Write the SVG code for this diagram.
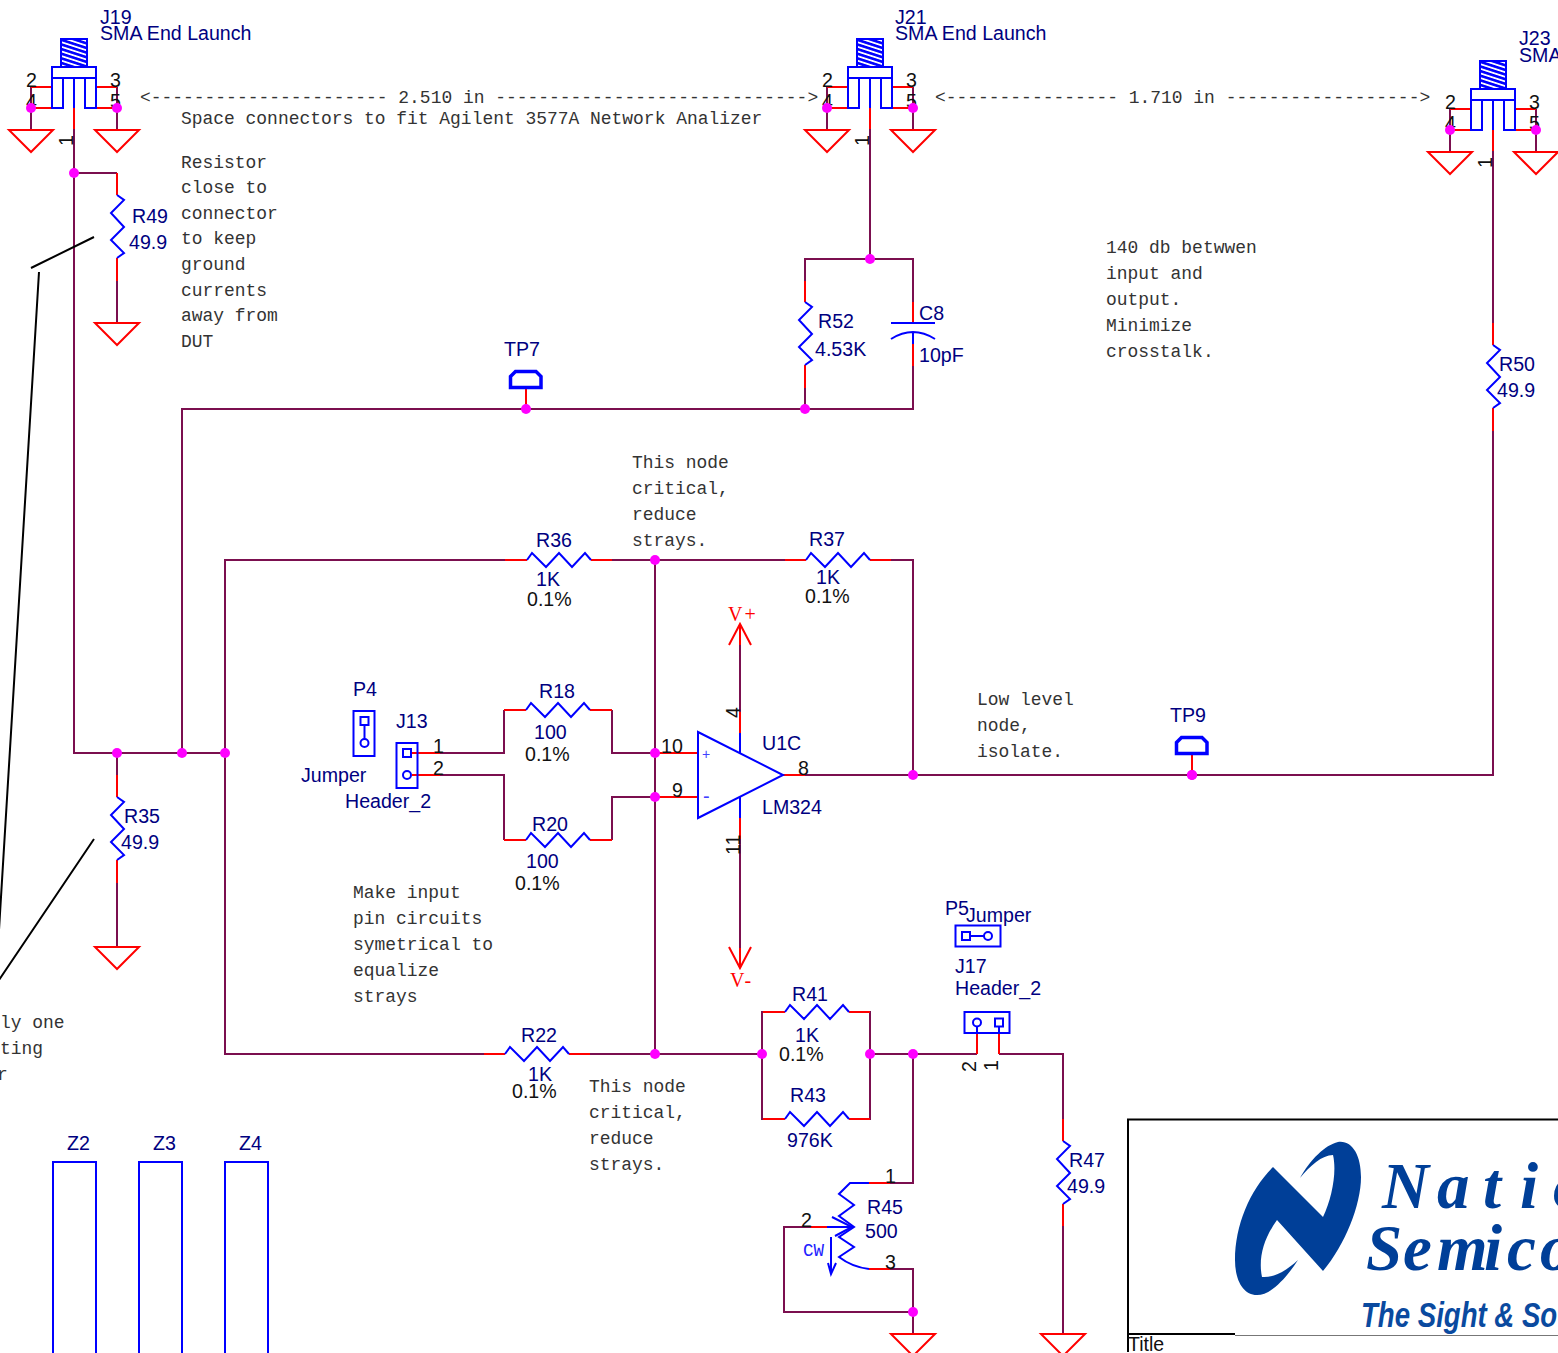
<svg xmlns="http://www.w3.org/2000/svg" width="1558" height="1353" viewBox="0 0 1558 1353">
<style>
.w{fill:none;stroke:#7b0f4f;stroke-width:2}
.p{fill:none;stroke:#f00;stroke-width:2}
.b{fill:none;stroke:#00f;stroke-width:2}
.k{fill:none;stroke:#000;stroke-width:2}
.j{fill:#f0f}
.t{font-family:"Liberation Sans",Arial,sans-serif;font-size:19.6px;fill:#000080}
.n{font-family:"Liberation Sans",Arial,sans-serif;font-size:19.6px;fill:#111}
.m{font-family:"Liberation Mono","Courier New",monospace;font-size:17.95px;fill:#333}
.v{font-family:"Liberation Serif","Times New Roman",serif;font-size:20px;fill:#f00}
.l{font-family:"Liberation Serif","Times New Roman",serif;font-style:italic;font-weight:bold;font-size:65px;fill:#003f98}
</style>
<defs>
<pattern id="hatch" width="6" height="4.4" patternUnits="userSpaceOnUse" patternTransform="rotate(18)">
<rect width="6" height="2.6" fill="#00f"/>
</pattern>
<g id="sma">
<path class="w" d="M31 87V130M117 87V130M74 129V150"/>
<path class="p" d="M31 87H52M31 108H52M96 87H117M96 108H117M74 108V129"/>
<rect x="61" y="39" width="26" height="28" fill="url(#hatch)" stroke="#00f" stroke-width="2"/>
<rect class="b" x="52" y="67" width="44" height="11"/>
<path class="b" d="M52 78V108H63V78M96 78V108H85V78M74 78V108"/>
<path class="p" d="M31 152L9 130H53ZM117 152L95 130H139Z"/>
</g>
<path id="gnd" class="p" d="M0 22L-22 0H22Z"/>
<path id="rh" class="b" d="M0 0L5 -7L19 7L32 -7L45 7L58 -7L64 0"/>
<path id="rv" class="b" d="M0 0L7 5L-6 18L7 32L-6 45L7 58L0 63"/>
<g id="tp">
<path class="p" d="M526 388V409"/>
<path d="M510.500 387.500V376.500L515.500 371.500H536L541 376.500V387.500Z" fill="none" stroke="#00f" stroke-width="3.500"/>
</g>
</defs>
<rect width="1558" height="1353" fill="#fff"/>

<g id="connectors">
<path class="w" d="M74 150V753H225M74 173H117M117 281V323"/>
<path class="w" d="M870 150V259M805 281V259H913V302M805 388V409M913 366V409H182V753"/>
<path class="w" d="M1493 172V323M1493 431V775H805"/>
<path class="w" d="M117 753V775M117 883V947"/>
<path class="w" d="M505 560H225V1054H484M591 560H785M891 560H913V775M655 560V1054M590 1054H762"/>
<path class="w" d="M440 753H504V710M440 775H504V840M612 710V753H660M612 840V797H660"/>
<path class="w" d="M740 645V712M740 839V948"/>
<path class="w" d="M762 1054V1012H785M762 1054V1119H785M849 1012H870V1119H849M870 1054H977M913 1054V1183H890M999 1054H1063V1119M1063 1226V1334"/>
<path class="w" d="M890 1269H913V1334M913 1312H784V1227H811"/>
<path class="p" d="M117 173V195M117 258V281M805 281V302M805 365V388M913 302V323M913 344V366M1493 323V345M1493 408V431M117 775V797M117 860V883"/>
<path class="p" d="M505 560H527M591 560H612M785 560H806M870 560H891M504 710H526M590 710H612M504 840H526M590 840H612M484 1054H505M569 1054H590M763 1012H785M849 1012H870M763 1119H785M849 1119H870M1063 1119V1141M1063 1204V1226"/>
<path class="p" d="M412 753H440M412 775H440M660 753H698M660 797H698M783 775H805M740 712V733M740 818V839M869 1183H890M869 1269H890M811 1227H827M977 1033V1054M999 1033V1054"/>
<circle class="j" cx="74" cy="173" r="5"/><circle class="j" cx="117" cy="753" r="5"/><circle class="j" cx="182" cy="753" r="5"/><circle class="j" cx="225" cy="753" r="5"/>
<circle class="j" cx="870" cy="259" r="5"/><circle class="j" cx="805" cy="409" r="5"/>
<circle class="j" cx="655" cy="560" r="5"/><circle class="j" cx="655" cy="753" r="5"/><circle class="j" cx="655" cy="797" r="5"/><circle class="j" cx="655" cy="1054" r="5"/>
<circle class="j" cx="762" cy="1054" r="5"/><circle class="j" cx="870" cy="1054" r="5"/><circle class="j" cx="913" cy="1054" r="5"/><circle class="j" cx="913" cy="775" r="5"/><circle class="j" cx="1192" cy="775" r="5"/><circle class="j" cx="913" cy="1312" r="5"/>
</g>

<g id="J19"><use href="#sma"/>
<text class="t" x="100" y="24">J19</text><text class="t" x="100" y="40">SMA End Launch</text>
<text class="n" x="26" y="87">2</text><text class="n" x="26" y="108">4</text><text class="n" x="110" y="87">3</text><text class="n" x="110" y="108">5</text>
<text class="n" transform="translate(73 146) rotate(-90)">1</text>
<circle class="j" cx="31" cy="108" r="5"/><circle class="j" cx="117" cy="108" r="5"/></g>
<g id="J21" transform="translate(796 0)"><use href="#sma"/>
<text class="t" x="99" y="24">J21</text><text class="t" x="99" y="40">SMA End Launch</text>
<text class="n" x="26" y="87">2</text><text class="n" x="26" y="108">4</text><text class="n" x="110" y="87">3</text><text class="n" x="110" y="108">5</text>
<text class="n" transform="translate(73 146) rotate(-90)">1</text>
<circle class="j" cx="31" cy="108" r="5"/><circle class="j" cx="117" cy="108" r="5"/></g>
<g id="J23" transform="translate(1419 22)"><use href="#sma"/>
<text class="t" x="100" y="23">J23</text><text class="t" x="100" y="40">SMA</text>
<text class="n" x="26" y="87">2</text><text class="n" x="26" y="108">4</text><text class="n" x="110" y="87">3</text><text class="n" x="110" y="108">5</text>
<text class="n" transform="translate(73 146) rotate(-90)">1</text>
<circle class="j" cx="31" cy="108" r="5"/><circle class="j" cx="117" cy="108" r="5"/></g>

<g id="gnd-symbols">
<use href="#gnd" x="117" y="323"/><use href="#gnd" x="117" y="947"/><use href="#gnd" x="913" y="1334"/><use href="#gnd" x="1063" y="1334"/>
</g>

<g id="R49"><use href="#rv" x="117" y="195"/><text class="t" x="132" y="223">R49</text><text class="t" x="129" y="249">49.9</text></g>
<g id="R52"><use href="#rv" x="805" y="302"/><text class="t" x="818" y="328">R52</text><text class="t" x="815" y="356">4.53K</text></g>
<g id="C8"><path class="b" d="M891 323H935M913 332V344M891 339Q913 325 935 339"/><text class="t" x="919" y="320">C8</text><text class="t" x="919" y="362">10pF</text></g>
<g id="R50"><use href="#rv" x="1493" y="345"/><text class="t" x="1499" y="371">R50</text><text class="t" x="1497" y="397">49.9</text></g>
<g id="R35"><use href="#rv" x="117" y="797"/><text class="t" x="124" y="823">R35</text><text class="t" x="121" y="849">49.9</text></g>
<g id="R47"><use href="#rv" x="1063" y="1141"/><text class="t" x="1069" y="1167">R47</text><text class="t" x="1067" y="1193">49.9</text></g>
<g id="TP7"><use href="#tp"/><text class="t" x="504" y="356">TP7</text><circle class="j" cx="526" cy="409" r="5"/></g>
<g id="TP9"><use href="#tp" x="666" y="366"/><text class="t" x="1170" y="722">TP9</text><circle class="j" cx="1192" cy="775" r="5"/></g>
<g id="R36"><use href="#rh" x="527" y="560"/><text class="t" x="536" y="547">R36</text><text class="t" x="536" y="586">1K</text><text class="n" x="527" y="606">0.1%</text></g>
<g id="R37"><use href="#rh" x="806" y="560"/><text class="t" x="809" y="546">R37</text><text class="t" x="816" y="584">1K</text><text class="n" x="805" y="603">0.1%</text></g>
<g id="R18"><use href="#rh" x="526" y="710"/><text class="t" x="539" y="698">R18</text><text class="t" x="534" y="739">100</text><text class="n" x="525" y="761">0.1%</text></g>
<g id="R20"><use href="#rh" x="526" y="840"/><text class="t" x="532" y="831">R20</text><text class="t" x="526" y="868">100</text><text class="n" x="515" y="890">0.1%</text></g>
<g id="R22"><use href="#rh" x="505" y="1054"/><text class="t" x="521" y="1042">R22</text><text class="t" x="528" y="1081">1K</text><text class="n" x="512" y="1098">0.1%</text></g>
<g id="R41"><use href="#rh" x="785" y="1012"/><text class="t" x="792" y="1001">R41</text><text class="t" x="795" y="1042">1K</text><text class="n" x="779" y="1061">0.1%</text></g>
<g id="R43"><use href="#rh" x="785" y="1119"/><text class="t" x="790" y="1102">R43</text><text class="t" x="787" y="1147">976K</text></g>

<g id="P4"><rect class="b" x="353.500" y="711" width="21" height="45"/><rect class="b" x="360.500" y="717" width="8" height="8"/><circle class="b" cx="364.500" cy="743" r="4"/><path class="b" d="M364.500 725V739"/>
<text class="t" x="353" y="696">P4</text><text class="t" x="301" y="782">Jumper</text></g>
<g id="J13"><rect class="b" x="396.500" y="743" width="21" height="45"/><rect class="b" x="403" y="749" width="8" height="8"/><circle class="b" cx="407" cy="775" r="4"/>
<text class="t" x="396" y="728">J13</text><text class="t" x="345" y="808">Header_2</text><text class="n" x="433" y="753">1</text><text class="n" x="433" y="775">2</text></g>

<g id="U1C"><path class="b" d="M698 732L783 775L698 818Z"/><path class="b" d="M740 733V754M740 797V818"/>
<path class="p" d="M729 645L740 624L751 645M740 624V645M729 947L740 968L751 947M740 948V968"/>
<text x="702" y="759" style="font-family:'Liberation Sans',sans-serif;font-size:14px;fill:#4040ff">+</text>
<text x="703" y="803" style="font-family:'Liberation Sans',sans-serif;font-size:20px;fill:#4040ff">-</text>
<text class="t" x="762" y="750">U1C</text><text class="t" x="762" y="814">LM324</text>
<text class="n" x="661" y="753">10</text><text class="n" x="672" y="797">9</text><text class="n" x="798" y="775">8</text>
<text class="n" transform="translate(740 718) rotate(-90)">4</text><text class="n" transform="translate(740 855) rotate(-90)">11</text>
<text class="v" x="728" y="621" letter-spacing="2">V+</text><text class="v" x="730" y="987" letter-spacing="2">V-</text></g>

<g id="P5"><rect class="b" x="955.500" y="925.500" width="45" height="21"/><rect class="b" x="962" y="932" width="8" height="8"/><circle class="b" cx="988" cy="936" r="4"/><path class="b" d="M970 936H984"/>
<text class="t" x="945" y="915">P5</text><text class="t" x="966" y="922">Jumper</text></g>
<g id="J17"><rect class="b" x="964.500" y="1012" width="45" height="21"/><circle class="b" cx="977" cy="1022.500" r="4"/><rect class="b" x="995" y="1018.500" width="8" height="8"/><path class="b" d="M977 1027V1033M999 1027V1033"/>
<text class="t" x="955" y="973">J17</text><text class="t" x="955" y="995">Header_2</text>
<text class="n" transform="translate(976 1072) rotate(-90)">2</text><text class="n" transform="translate(998 1071) rotate(-90)">1</text></g>

<g id="R45"><path class="b" d="M869 1183H850L839 1194L854 1205L839 1216L854 1227L839 1237L854 1247L839 1257Q852 1267 869 1269"/>
<path class="b" d="M827 1227H852M832 1217L852 1227L835 1236M831 1237V1273M828 1263L831 1274L836 1263"/>
<text class="t" x="867" y="1214">R45</text><text class="t" x="865" y="1238">500</text>
<text class="n" x="885" y="1183">1</text><text class="n" x="801" y="1227">2</text><text class="n" x="885" y="1269">3</text>
<text x="803" y="1256" style="font-family:'Liberation Mono',monospace;font-size:17.500px;fill:#2020ff">CW</text></g>

<g id="Z2"><rect class="b" x="53" y="1162" width="43" height="200"/><text class="t" x="67" y="1150">Z2</text></g>
<g id="Z3"><rect class="b" x="139" y="1162" width="43" height="200"/><text class="t" x="153" y="1150">Z3</text></g>
<g id="Z4"><rect class="b" x="225" y="1162" width="43" height="200"/><text class="t" x="239" y="1150">Z4</text></g>

<g id="leaders"><path class="k" d="M31 268L94 237M39 272L-1 930M94 839L-1 980"/></g>

<g id="notes">
<text class="m" x="140" y="103" xml:space="preserve">&lt;---------------------- 2.510 in -----------------------------></text>
<text class="m" x="935" y="103" xml:space="preserve">&lt;---------------- 1.710 in ------------------></text>
<text class="m" x="181" y="124">Space connectors to fit Agilent 3577A Network Analizer</text>
<text class="m" x="181" y="168">Resistor</text><text class="m" x="181" y="193">close to</text><text class="m" x="181" y="219">connector</text><text class="m" x="181" y="244">to keep</text><text class="m" x="181" y="270">ground</text><text class="m" x="181" y="296">currents</text><text class="m" x="181" y="321">away from</text><text class="m" x="181" y="347">DUT</text>
<text class="m" x="1106" y="253">140 db betwwen</text><text class="m" x="1106" y="279">input and</text><text class="m" x="1106" y="305">output.</text><text class="m" x="1106" y="331">Minimize</text><text class="m" x="1106" y="357">crosstalk.</text>
<text class="m" x="632" y="468">This node</text><text class="m" x="632" y="494">critical,</text><text class="m" x="632" y="520">reduce</text><text class="m" x="632" y="546">strays.</text>
<text class="m" x="977" y="705">Low level</text><text class="m" x="977" y="731">node,</text><text class="m" x="977" y="757">isolate.</text>
<text class="m" x="353" y="898">Make input</text><text class="m" x="353" y="924">pin circuits</text><text class="m" x="353" y="950">symetrical to</text><text class="m" x="353" y="976">equalize</text><text class="m" x="353" y="1002">strays</text>
<text class="m" x="589" y="1092">This node</text><text class="m" x="589" y="1118">critical,</text><text class="m" x="589" y="1144">reduce</text><text class="m" x="589" y="1170">strays.</text>
<text class="m" x="0" y="1028">ly one</text><text class="m" x="0" y="1054">ting</text><text class="m" x="-3" y="1080">r</text>
</g>

<g id="title-block">
<path class="k" d="M1128 1352V1119.500H1558M1128 1334H1235"/>
<path d="M1235 1335.500H1558" fill="none" stroke="#777" stroke-width="1"/>
<path d="M1338 1142C1352 1140 1361 1155 1361 1177C1361 1205 1345 1245 1323 1271L1277 1220C1264 1238 1258 1258 1262 1277C1275 1278 1287 1270 1298 1260C1285 1280 1270 1295 1257 1295C1243 1295 1235 1280 1235 1260C1235 1225 1250 1190 1273 1167L1323 1217C1332 1198 1337 1172 1333 1155C1322 1155 1310 1166 1300 1178C1310 1160 1325 1145 1338 1142Z" fill="#003f98"/>
<text class="l" x="1382 1437 1483 1520 1553" y="1208">Natio</text>
<text class="l" x="1366 1403 1437 1484 1507 1540" y="1270">Semico</text>
<text transform="translate(1361 1327) scale(.8 1)" style="font-family:'Liberation Sans',sans-serif;font-style:italic;font-weight:bold;font-size:34.500px;fill:#0a4a9f">The Sight &amp; So</text>
<text x="1128" y="1351" style="font-family:'Liberation Sans',sans-serif;font-size:19.500px;fill:#111">Title</text>
</g>
</svg>
